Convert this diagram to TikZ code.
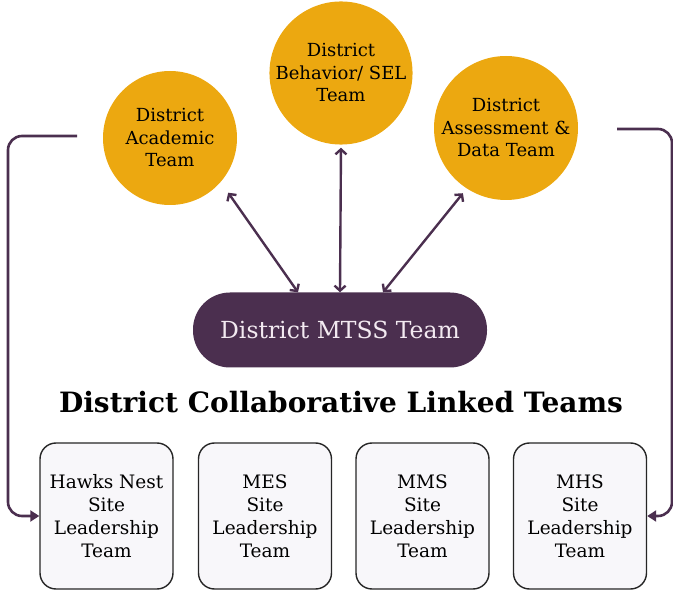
\documentclass[tikz,border=0pt]{standalone}
\usepackage{fontspec}
\setmainfont{DejaVu Serif}
\usepackage{tikz}
\usetikzlibrary{arrows.meta}
\definecolor{teamgold}{HTML}{ECA810}
\definecolor{mtsspurple}{HTML}{4B2F4F}
\definecolor{sitefill}{HTML}{F8F7FA}
\definecolor{pilltext}{HTML}{F3EAF1}

\begin{document}
\begin{tikzpicture}[x=1pt,y=-1pt,
	teamcircle/.style={circle,fill=teamgold,inner sep=0pt,align=center,text=black,font=\fontsize{18}{22.5}\selectfont},
	sitebox/.style={draw=black!85,line width=1.4pt,fill=sitefill,rounded corners=16pt,minimum width=133pt,minimum height=146pt,align=center,font=\fontsize{18.5}{23}\selectfont},
	link/.style={mtsspurple,line width=2.4pt,{Straight Barb[length=5pt,width=11pt]}-{Straight Barb[length=5pt,width=11pt]}},
	feed/.style={mtsspurple,line width=2.6pt,rounded corners=14pt,-{Triangle[length=9pt,width=11pt]}}]
								\def\acadrad{67}
								\def\behavrad{70}
								\def\assessrad{72}

								\useasboundingbox (0,0) rectangle (673,593);

								\node[teamcircle,minimum size=2*\acadrad pt] (acad) at (170,138) {District\\Academic\\Team};
								\node[teamcircle,minimum size=2*\behavrad pt] (behav) at (341,73) {District\\Behavior/ SEL\\Team};
								\node[teamcircle,minimum size=2*\assessrad pt] (assess) at (506,128) {District\\Assessment \&\\Data Team};

								\node[fill=mtsspurple,rounded corners=37pt,minimum width=294pt,minimum height=75pt,text=pilltext,font=\fontsize{23.5}{28}\selectfont] (mtss) at (340,330) {District MTSS Team};

								\node[font=\fontsize{28}{32}\selectfont\bfseries] (title) at (341,402) {District Collaborative Linked Teams};

								\node[sitebox] (hawks) at (106.5,516) {Hawks Nest\\Site\\Leadership\\Team};
								\node[sitebox] (mes) at (265,516) {MES\\Site\\Leadership\\Team};
								\node[sitebox] (mms) at (422.5,516) {MMS\\Site\\Leadership\\Team};
								\node[sitebox] (mhs) at (580,516) {MHS\\Site\\Leadership\\Team};

								\draw[link,shorten <=13pt] (acad.-41) -- ([xshift=-42pt]mtss.north);
								\draw[link,shorten <=3pt] (behav.south) -- (mtss.north);
								\draw[link,shorten <=6pt] (assess.-123) -- ([xshift=43pt]mtss.north);

								\coordinate (acadfeed) at (77,136);
								\coordinate (assessfeed) at (617,129);
								\draw[feed] (acadfeed) -- ++(-69,0) |- (hawks.west);
								\draw[feed] (assessfeed) -- ++(55,0) |- (mhs.east);
							\end{tikzpicture}
\end{document}
